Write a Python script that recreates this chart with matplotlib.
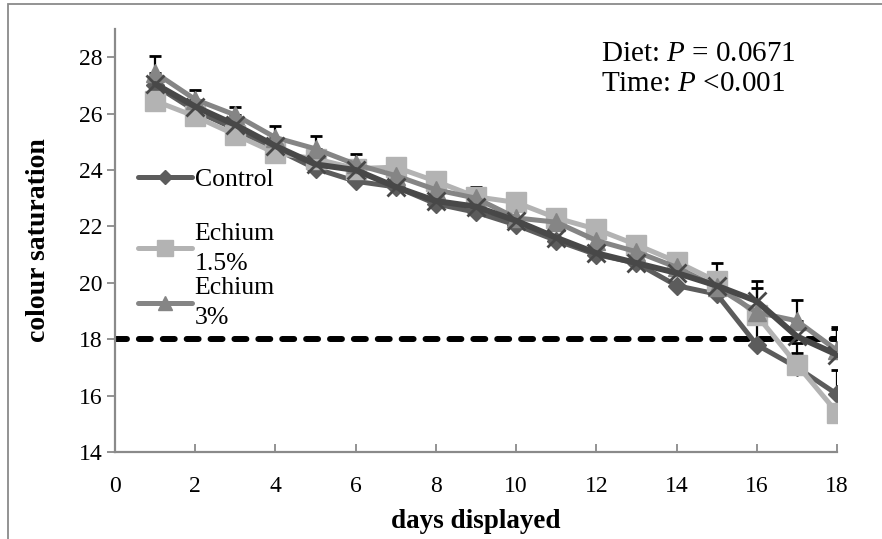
import matplotlib
matplotlib.use("Agg")
import matplotlib.pyplot as plt
from matplotlib.patches import Rectangle
import numpy as np

plt.rcParams['font.family'] = ['Liberation Serif', 'DejaVu Serif']
plt.rcParams['mathtext.fontset'] = 'custom'
plt.rcParams['mathtext.rm'] = 'Liberation Serif'
plt.rcParams['mathtext.it'] = 'Liberation Serif:italic'

# ---- data ----
days = [1, 2, 3, 4, 5, 6, 7, 8, 9, 10, 11, 12, 13, 14, 15, 16, 17, 18]
control = [27.0, 26.1, 25.45, 24.75, 24.05, 23.6, 23.4, 22.8, 22.5, 22.05,
           21.5, 21.0, 20.7, 19.9, 19.6, 17.8, 17.0, 16.05]
echium15 = [26.45, 25.9, 25.25, 24.6, 24.4, 24.05, 24.1, 23.6, 23.05, 22.85,
            22.3, 21.9, 21.35, 20.75, 20.05, 18.85, 17.1, 15.4]
echium3 = [27.45, 26.5, 25.95, 25.15, 24.75, 24.2, 23.8, 23.3, 23.0, 22.3,
           22.15, 21.5, 21.1, 20.55, 19.85, 18.95, 18.65, 17.6]
series4 = [27.05, 26.25, 25.6, 24.85, 24.2, 24.0, 23.4, 22.9, 22.7, 22.2,
           21.6, 21.05, 20.7, 20.35, 19.9, 19.35, 18.1, 17.45]

# upper error bars (0 = not shown)
control_err = [0, 0, 0, 0, 0, 0, 0, 0, 0, 0, 0, 0, 0, 0, 0, 2.0, 0.5, 0.85]
echium15_err = [0, 0, 0, 0, 0, 0, 0, 0.3, 0.35, 0, 0.3, 0.3, 0.3, 0.3, 0.65, 0, 0.75, 0]
echium3_err = [0.6, 0.35, 0.3, 0.4, 0.45, 0.35, 0, 0, 0, 0, 0, 0, 0, 0, 0, 1.1, 0.75, 0.85]
series4_err = [0, 0, 0, 0, 0, 0, 0, 0, 0, 0, 0, 0, 0, 0, 0, 0, 0, 0.9]

labels = ["Control", "Echium\n1.5%", "Echium\n3%"]
threshold = 18
xticks = [0, 2, 4, 6, 8, 10, 12, 14, 16, 18]
yticks = [14, 16, 18, 20, 22, 24, 26, 28]
annotation = "Diet: $P$ = 0.0671\nTime: $P$ <0.001"

# ---- figure ----
fig = plt.figure(figsize=(8.82, 5.39), dpi=100)
ax = fig.add_axes([115/882, 1-452/539, 722/882, 423/539])

# chart-area border (cropped)
fig.patches.append(Rectangle((8/882, -0.2), 2.0, 1.2 - 4/539, transform=fig.transFigure,
                             fill=False, edgecolor='#8a8a8a', lw=1.3))

ax.axhline(threshold, color='black', lw=4.3, dashes=(2.0, 2.0),
           dash_capstyle='round', zorder=1.5)

for vals, errs in [(control, control_err), (echium15, echium15_err),
                   (echium3, echium3_err), (series4, series4_err)]:
    xs = [d for d, e in zip(days, errs) if e > 0]
    ys = [v for v, e in zip(vals, errs) if e > 0]
    es = [e for e in errs if e > 0]
    ax.errorbar(xs, ys, yerr=[np.zeros(len(es)), es], fmt='none', ecolor='black',
                elinewidth=1.6, capsize=4.5, capthick=2, zorder=1.8)

l1, = ax.plot(days, control, color='#5c5c5c', lw=3.6, marker='D', ms=9,
              zorder=2, solid_capstyle='round')
l2, = ax.plot(days, echium15, color='#b3b3b3', lw=3.6, marker='s', ms=14,
              zorder=2.1, solid_capstyle='round')
l3, = ax.plot(days, echium3, color='#858585', lw=3.6, marker='^', ms=13,
              zorder=2.2, solid_capstyle='round')
ax.plot(days, series4, color='#484848', lw=4.3, marker='x', ms=13, mew=2,
        zorder=2.3, solid_capstyle='round')

ax.set_xlim(0, 18)
ax.set_ylim(14, 29)
ax.set_xticks(xticks)
ax.set_yticks(yticks)
for s in ['top', 'right']:
    ax.spines[s].set_visible(False)
for s in ['left', 'bottom']:
    ax.spines[s].set_color('#8a8a8a')
    ax.spines[s].set_linewidth(1.6)
ax.tick_params(axis='y', direction='out', length=6, width=1.3, color='#8a8a8a',
               labelsize=17, pad=3)
ax.tick_params(axis='x', direction='in', length=6, width=1.3, color='#8a8a8a',
               labelsize=17, pad=17)

ax.set_xlabel("days displayed", fontsize=19.5, fontweight='bold', labelpad=9)
ax.set_ylabel("colour saturation", fontsize=20, fontweight='bold', labelpad=20)

ax.text(0.673, 0.905, annotation, transform=ax.transAxes, fontsize=21,
        ha='left', va='center', linespacing=1.17)

leg_kw = dict(frameon=False, fontsize=18.5, handlelength=2.1, handletextpad=0.1,
              borderaxespad=0.0, borderpad=0.0, markerscale=0.8)
leg1 = ax.legend([l1], [labels[0]], loc='center left',
                 bbox_to_anchor=(0.032, (452 - 180) / 423), **leg_kw)
ax.add_artist(leg1)
leg2 = ax.legend([l2, l3], labels[1:], loc='center left',
                 bbox_to_anchor=(0.032, (452 - 276) / 423), labelspacing=0.1, **leg_kw)
for t in leg2.get_texts():
    t.set_linespacing(1.45)

fig.savefig("out.png", dpi=100)
